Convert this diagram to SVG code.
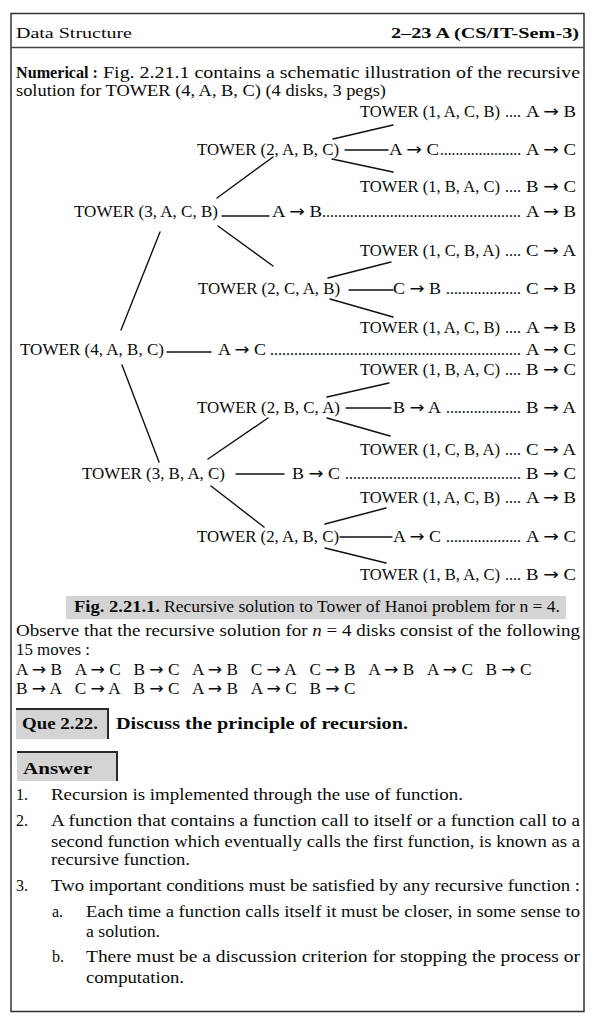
<svg xmlns="http://www.w3.org/2000/svg" width="596" height="1024" viewBox="0 0 596 1024">
<style>
text { font-family: "Liberation Serif", "Times New Roman", serif; font-size: 16px; fill: #0a0a0a; }
.b { font-weight: bold; }
.h { font-size: 15px; }
.ar { font-family: "DejaVu Sans", sans-serif; font-weight: normal; }
.c line { stroke: #111; stroke-width: 1.4; stroke-linecap: round; }
.box { fill: #d4d4d4; }
.dark { stroke: #2a2a2a; stroke-width: 2; }
</style>
<rect x="0" y="0" width="596" height="1024" fill="#ffffff"/>
<rect x="11" y="13.5" width="573" height="998" fill="none" stroke="#333" stroke-width="1.5"/>

<g id="header">
<text class="h" x="16" y="38" textLength="116" lengthAdjust="spacingAndGlyphs">Data Structure</text>
<text class="h b" x="391" y="38" textLength="188" lengthAdjust="spacingAndGlyphs">2–23 A (CS/IT-Sem-3)</text>
<line x1="11" y1="47.5" x2="584" y2="47.5" stroke="#444" stroke-width="1.5"/>
</g>

<g id="intro">
<text class="b" x="16" y="78" textLength="82" lengthAdjust="spacingAndGlyphs">Numerical :</text>
<text x="103" y="78" textLength="477" lengthAdjust="spacingAndGlyphs">Fig. 2.21.1 contains a schematic illustration of the recursive</text>
<text x="16" y="96" textLength="370" lengthAdjust="spacingAndGlyphs">solution for TOWER (4, A, B, C) (4 disks, 3 pegs)</text>
</g>

<g class="c" id="connectors">
<line x1="333" y1="139" x2="393" y2="125"/>
<line x1="332" y1="159" x2="393" y2="172"/>
<line x1="345" y1="150" x2="388" y2="150"/>
<line x1="217" y1="198" x2="273" y2="157"/>
<line x1="222" y1="216" x2="269" y2="216"/>
<line x1="218" y1="226" x2="273" y2="266"/>
<line x1="328" y1="278" x2="391" y2="262"/>
<line x1="349" y1="290" x2="393" y2="290"/>
<line x1="330" y1="299" x2="393" y2="317"/>
<line x1="121" y1="330" x2="160" y2="232"/>
<line x1="167" y1="352" x2="211" y2="352"/>
<line x1="122" y1="365" x2="159" y2="462"/>
<line x1="327" y1="397" x2="389" y2="383"/>
<line x1="346" y1="408" x2="391" y2="408"/>
<line x1="327" y1="418" x2="390" y2="436"/>
<line x1="208" y1="459" x2="268" y2="418"/>
<line x1="236" y1="474" x2="284" y2="474"/>
<line x1="211" y1="486" x2="264" y2="527"/>
<line x1="325" y1="524" x2="386" y2="508"/>
<line x1="340" y1="537" x2="392" y2="537"/>
<line x1="325" y1="548" x2="386" y2="563"/>
</g>

<g id="t4-ABC"><text x="20" y="355" textLength="144" lengthAdjust="spacingAndGlyphs">TOWER (4, A, B, C)</text></g>
<g id="t3-ACB"><text x="74" y="217" textLength="144" lengthAdjust="spacingAndGlyphs">TOWER (3, A, C, B)</text></g>
<g id="t3-BAC"><text x="82" y="479" textLength="143" lengthAdjust="spacingAndGlyphs">TOWER (3, B, A, C)</text></g>
<g id="t2-ABC-1"><text x="197" y="155" textLength="142" lengthAdjust="spacingAndGlyphs">TOWER (2, A, B, C)</text></g>
<g id="t2-CAB"><text x="198" y="294" textLength="142" lengthAdjust="spacingAndGlyphs">TOWER (2, C, A, B)</text></g>
<g id="t2-BCA"><text x="197" y="413" textLength="143" lengthAdjust="spacingAndGlyphs">TOWER (2, B, C, A)</text></g>
<g id="t2-ABC-2"><text x="197" y="542" textLength="142" lengthAdjust="spacingAndGlyphs">TOWER (2, A, B, C)</text></g>

<g id="t1-ACB-1"><text x="360" y="117" textLength="140" lengthAdjust="spacingAndGlyphs">TOWER (1, A, C, B)</text><text x="505" y="117">....</text><text x="526" y="117" textLength="50" lengthAdjust="spacingAndGlyphs">A <tspan class="ar">→</tspan> B</text></g>
<g id="m-AC-1"><text x="389" y="155" textLength="50" lengthAdjust="spacingAndGlyphs">A <tspan class="ar">→</tspan> C</text><text x="440" y="155" textLength="81" lengthAdjust="spacingAndGlyphs">.....................</text><text x="526" y="155" textLength="50" lengthAdjust="spacingAndGlyphs">A <tspan class="ar">→</tspan> C</text></g>
<g id="t1-BAC-1"><text x="360" y="192" textLength="140" lengthAdjust="spacingAndGlyphs">TOWER (1, B, A, C)</text><text x="505" y="192">....</text><text x="526" y="192" textLength="50" lengthAdjust="spacingAndGlyphs">B <tspan class="ar">→</tspan> C</text></g>
<g id="m-AB-1"><text x="272" y="217" textLength="50" lengthAdjust="spacingAndGlyphs">A <tspan class="ar">→</tspan> B</text><text x="322" y="217" textLength="199" lengthAdjust="spacingAndGlyphs">..................................................</text><text x="526" y="217" textLength="50" lengthAdjust="spacingAndGlyphs">A <tspan class="ar">→</tspan> B</text></g>
<g id="t1-CBA-1"><text x="360" y="256" textLength="140" lengthAdjust="spacingAndGlyphs">TOWER (1, C, B, A)</text><text x="505" y="256">....</text><text x="526" y="256" textLength="50" lengthAdjust="spacingAndGlyphs">C <tspan class="ar">→</tspan> A</text></g>
<g id="m-CB"><text x="393" y="294" textLength="48" lengthAdjust="spacingAndGlyphs">C <tspan class="ar">→</tspan> B</text><text x="446" y="294" textLength="75" lengthAdjust="spacingAndGlyphs">...................</text><text x="526" y="294" textLength="50" lengthAdjust="spacingAndGlyphs">C <tspan class="ar">→</tspan> B</text></g>
<g id="t1-ACB-2"><text x="360" y="333" textLength="140" lengthAdjust="spacingAndGlyphs">TOWER (1, A, C, B)</text><text x="505" y="333">....</text><text x="526" y="333" textLength="50" lengthAdjust="spacingAndGlyphs">A <tspan class="ar">→</tspan> B</text></g>
<g id="m-AC-2"><text x="218" y="355" textLength="48" lengthAdjust="spacingAndGlyphs">A <tspan class="ar">→</tspan> C</text><text x="270" y="355" textLength="251" lengthAdjust="spacingAndGlyphs">...............................................................</text><text x="526" y="355" textLength="50" lengthAdjust="spacingAndGlyphs">A <tspan class="ar">→</tspan> C</text></g>
<g id="t1-BAC-2"><text x="360" y="375" textLength="140" lengthAdjust="spacingAndGlyphs">TOWER (1, B, A, C)</text><text x="505" y="375">....</text><text x="526" y="375" textLength="50" lengthAdjust="spacingAndGlyphs">B <tspan class="ar">→</tspan> C</text></g>
<g id="m-BA"><text x="393" y="413" textLength="48" lengthAdjust="spacingAndGlyphs">B <tspan class="ar">→</tspan> A</text><text x="446" y="413" textLength="75" lengthAdjust="spacingAndGlyphs">...................</text><text x="526" y="413" textLength="50" lengthAdjust="spacingAndGlyphs">B <tspan class="ar">→</tspan> A</text></g>
<g id="t1-CBA-2"><text x="360" y="455" textLength="140" lengthAdjust="spacingAndGlyphs">TOWER (1, C, B, A)</text><text x="505" y="455">....</text><text x="526" y="455" textLength="50" lengthAdjust="spacingAndGlyphs">C <tspan class="ar">→</tspan> A</text></g>
<g id="m-BC"><text x="292" y="479" textLength="48" lengthAdjust="spacingAndGlyphs">B <tspan class="ar">→</tspan> C</text><text x="345" y="479" textLength="176" lengthAdjust="spacingAndGlyphs">............................................</text><text x="526" y="479" textLength="50" lengthAdjust="spacingAndGlyphs">B <tspan class="ar">→</tspan> C</text></g>
<g id="t1-ACB-3"><text x="360" y="503" textLength="140" lengthAdjust="spacingAndGlyphs">TOWER (1, A, C, B)</text><text x="505" y="503">....</text><text x="526" y="503" textLength="50" lengthAdjust="spacingAndGlyphs">A <tspan class="ar">→</tspan> B</text></g>
<g id="m-AC-3"><text x="393" y="542" textLength="48" lengthAdjust="spacingAndGlyphs">A <tspan class="ar">→</tspan> C</text><text x="446" y="542" textLength="75" lengthAdjust="spacingAndGlyphs">...................</text><text x="526" y="542" textLength="50" lengthAdjust="spacingAndGlyphs">A <tspan class="ar">→</tspan> C</text></g>
<g id="t1-BAC-3"><text x="360" y="580" textLength="140" lengthAdjust="spacingAndGlyphs">TOWER (1, B, A, C)</text><text x="505" y="580">....</text><text x="526" y="580" textLength="50" lengthAdjust="spacingAndGlyphs">B <tspan class="ar">→</tspan> C</text></g>

<g id="caption">
<rect class="box" x="66" y="596" width="500" height="23"/>
<text class="b" x="74" y="612" textLength="86" lengthAdjust="spacingAndGlyphs">Fig. 2.21.1.</text>
<text x="164" y="612" textLength="396" lengthAdjust="spacingAndGlyphs">Recursive solution to Tower of Hanoi problem for n = 4.</text>
</g>

<g id="moves">
<text x="16" y="636" textLength="564" lengthAdjust="spacingAndGlyphs">Observe that the recursive solution for <tspan font-style="italic">n</tspan> = 4 disks consist of the following</text>
<text x="16" y="655" textLength="74" lengthAdjust="spacingAndGlyphs">15 moves :</text>
<text x="16" y="675" textLength="46" lengthAdjust="spacingAndGlyphs">A <tspan class="ar">→</tspan> B</text>
<text x="74.7" y="675" textLength="46" lengthAdjust="spacingAndGlyphs">A <tspan class="ar">→</tspan> C</text>
<text x="133.4" y="675" textLength="46" lengthAdjust="spacingAndGlyphs">B <tspan class="ar">→</tspan> C</text>
<text x="192.1" y="675" textLength="46" lengthAdjust="spacingAndGlyphs">A <tspan class="ar">→</tspan> B</text>
<text x="250.8" y="675" textLength="46" lengthAdjust="spacingAndGlyphs">C <tspan class="ar">→</tspan> A</text>
<text x="309.5" y="675" textLength="46" lengthAdjust="spacingAndGlyphs">C <tspan class="ar">→</tspan> B</text>
<text x="368.2" y="675" textLength="46" lengthAdjust="spacingAndGlyphs">A <tspan class="ar">→</tspan> B</text>
<text x="426.9" y="675" textLength="46" lengthAdjust="spacingAndGlyphs">A <tspan class="ar">→</tspan> C</text>
<text x="485.6" y="675" textLength="46" lengthAdjust="spacingAndGlyphs">B <tspan class="ar">→</tspan> C</text>
<text x="16" y="694" textLength="46" lengthAdjust="spacingAndGlyphs">B <tspan class="ar">→</tspan> A</text>
<text x="74.7" y="694" textLength="46" lengthAdjust="spacingAndGlyphs">C <tspan class="ar">→</tspan> A</text>
<text x="133.4" y="694" textLength="46" lengthAdjust="spacingAndGlyphs">B <tspan class="ar">→</tspan> C</text>
<text x="192.1" y="694" textLength="46" lengthAdjust="spacingAndGlyphs">A <tspan class="ar">→</tspan> B</text>
<text x="250.8" y="694" textLength="46" lengthAdjust="spacingAndGlyphs">A <tspan class="ar">→</tspan> C</text>
<text x="309.5" y="694" textLength="46" lengthAdjust="spacingAndGlyphs">B <tspan class="ar">→</tspan> C</text>
</g>

<g id="que">
<rect class="box" x="16" y="708" width="92" height="31"/>
<line class="dark" x1="16" y1="709" x2="108" y2="709"/>
<line class="dark" x1="108" y1="708" x2="108" y2="739"/>
<text class="b" x="22" y="729" textLength="76" lengthAdjust="spacingAndGlyphs">Que 2.22.</text>
<text class="b" x="116" y="729" textLength="292" lengthAdjust="spacingAndGlyphs">Discuss the principle of recursion.</text>
</g>

<g id="answer">
<rect class="box" x="17" y="751" width="100" height="30"/>
<line class="dark" x1="17" y1="752" x2="117" y2="752"/>
<line class="dark" x1="117" y1="751" x2="117" y2="781"/>
<text class="b" x="23" y="774" font-size="19" textLength="69" lengthAdjust="spacingAndGlyphs">Answer</text>
</g>

<g id="list">
<text x="16" y="800">1.</text>
<text x="51" y="800" textLength="412" lengthAdjust="spacingAndGlyphs">Recursion is implemented through the use of function.</text>
<text x="16" y="826">2.</text>
<text x="51" y="826" textLength="529" lengthAdjust="spacingAndGlyphs">A function that contains a function call to itself or a function call to a</text>
<text x="51" y="847" textLength="529" lengthAdjust="spacingAndGlyphs">second function which eventually calls the first function, is known as a</text>
<text x="51" y="865" textLength="139" lengthAdjust="spacingAndGlyphs">recursive function.</text>
<text x="16" y="891">3.</text>
<text x="51" y="891" textLength="529" lengthAdjust="spacingAndGlyphs">Two important conditions must be satisfied by any recursive function :</text>
<text x="52" y="917">a.</text>
<text x="86" y="917" textLength="494" lengthAdjust="spacingAndGlyphs">Each time a function calls itself it must be closer, in some sense to</text>
<text x="86" y="937" textLength="74" lengthAdjust="spacingAndGlyphs">a solution.</text>
<text x="52" y="962">b.</text>
<text x="86" y="962" textLength="494" lengthAdjust="spacingAndGlyphs">There must be a discussion criterion for stopping the process or</text>
<text x="86" y="983" textLength="98" lengthAdjust="spacingAndGlyphs">computation.</text>
</g>
</svg>
